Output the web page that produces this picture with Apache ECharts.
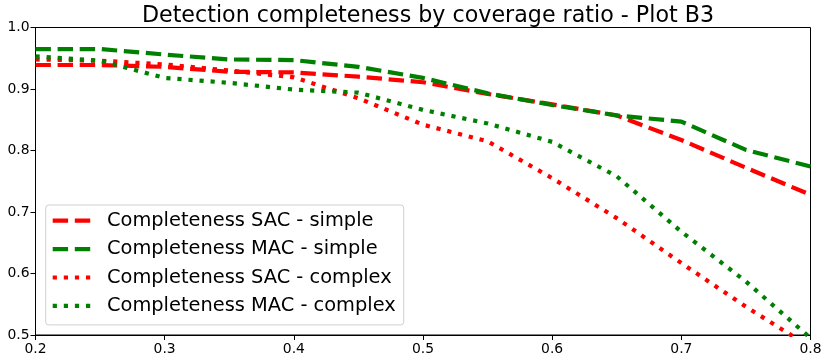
<!DOCTYPE html>
<html><head><meta charset="utf-8">
<script src="https://cdn.jsdelivr.net/npm/echarts@6/dist/echarts.min.js"></script>
<style>html,body{margin:0;padding:0;background:#fff}#c{width:825px;height:362px}</style>
</head><body><div id="c"></div>
<script>
const ratios = [0.2,0.25,0.3,0.35,0.4,0.45,0.5,0.55,0.6,0.65,0.7,0.75,0.8];
const sacSimple  = [0.939,0.939,0.936,0.928,0.927,0.920,0.911,0.892,0.875,0.857,0.817,0.772,0.728];
const macSimple  = [0.965,0.965,0.956,0.948,0.947,0.936,0.918,0.893,0.874,0.857,0.847,0.801,0.774];
const sacComplex = [0.948,0.946,0.940,0.930,0.919,0.885,0.842,0.815,0.755,0.690,0.617,0.546,0.480];
const macComplex = [0.953,0.946,0.918,0.910,0.899,0.894,0.866,0.844,0.814,0.758,0.668,0.587,0.495];
const seriesNames = ['Completeness SAC - simple','Completeness MAC - simple','Completeness SAC - complex','Completeness MAC - complex'];
const xTicks = [0.2,0.3,0.4,0.5,0.6,0.7,0.8];
const yTicks = [0.5,0.6,0.7,0.8,0.9,1.0];
const titleText = 'Detection completeness by coverage ratio - Plot B3';

const FONT = 'DejaVu Sans';
const dash = [15.4, 6.7], dot = [4.2, 6.9];
const dashIcon = 'path://M0,0H15.4V4.2H0Z M22.1,0H37.5V4.2H22.1Z';
const dotIcon = 'path://M0,0H4.2V4.2H0Z M11.1,0H15.3V4.2H11.1Z M22.2,0H26.4V4.2H22.2Z M33.3,0H37.5V4.2H33.3Z';
function mk(name, vals, color, type){
  return {name, type:'line', data: ratios.map((r,i)=>[r, vals[i]]), symbol:'none',
    lineStyle:{color, width:4.2, type, cap:'butt'}, itemStyle:{color}, clip:true, animation:false};
}
const chart = echarts.init(document.getElementById('c'), null, {renderer:'canvas'});
chart.setOption({
  animation:false,
  title:{text:titleText, left:423, top:0, textAlign:'center',
    textStyle:{fontFamily:FONT, fontSize:22.2, fontWeight:'normal', color:'#000'}},
  grid:{left:35.5, right:14.5, top:27.5, bottom:27, show:true, borderColor:'#000', borderWidth:1, backgroundColor:'transparent'},
  xAxis:{type:'value', min:0.2, max:0.8, interval:0.1,
    axisLine:{show:true, onZero:false, lineStyle:{color:'#000'}},
    axisTick:{show:true, length:5, inside:false, lineStyle:{color:'#000'}},
    splitLine:{show:false},
    axisLabel:{fontFamily:FONT, fontSize:13.9, color:'#000', margin:7, formatter:v=>v.toFixed(1)}},
  yAxis:{type:'value', min:0.5, max:1.0, interval:0.1,
    axisLine:{show:true, onZero:false, lineStyle:{color:'#000'}},
    axisTick:{show:true, length:5, lineStyle:{color:'#000'}},
    splitLine:{show:false},
    axisLabel:{fontFamily:FONT, fontSize:13.9, color:'#000', margin:6, formatter:v=>v.toFixed(1)}},
  legend:{orient:'vertical', left:45.7, top:205, itemWidth:37.5, itemHeight:4.2, itemGap:8.4,
    padding:[5.7,8,9,7], backgroundColor:'rgba(255,255,255,0.8)', borderColor:'#d0d0d0', borderWidth:1, borderRadius:3,
    textStyle:{fontFamily:FONT, fontSize:19.4, lineHeight:20, color:'#000', padding:[0,0,0,11.8]},
    data:[
      {name:seriesNames[0], icon:dashIcon},
      {name:seriesNames[1], icon:dashIcon},
      {name:seriesNames[2], icon:dotIcon},
      {name:seriesNames[3], icon:dotIcon}
    ]},
  series:[
    mk(seriesNames[0], sacSimple, '#ff0000', dash),
    mk(seriesNames[1], macSimple, '#008000', dash),
    mk(seriesNames[2], sacComplex, '#ff0000', dot),
    mk(seriesNames[3], macComplex, '#008000', dot)
  ]
});
</script></body></html>
